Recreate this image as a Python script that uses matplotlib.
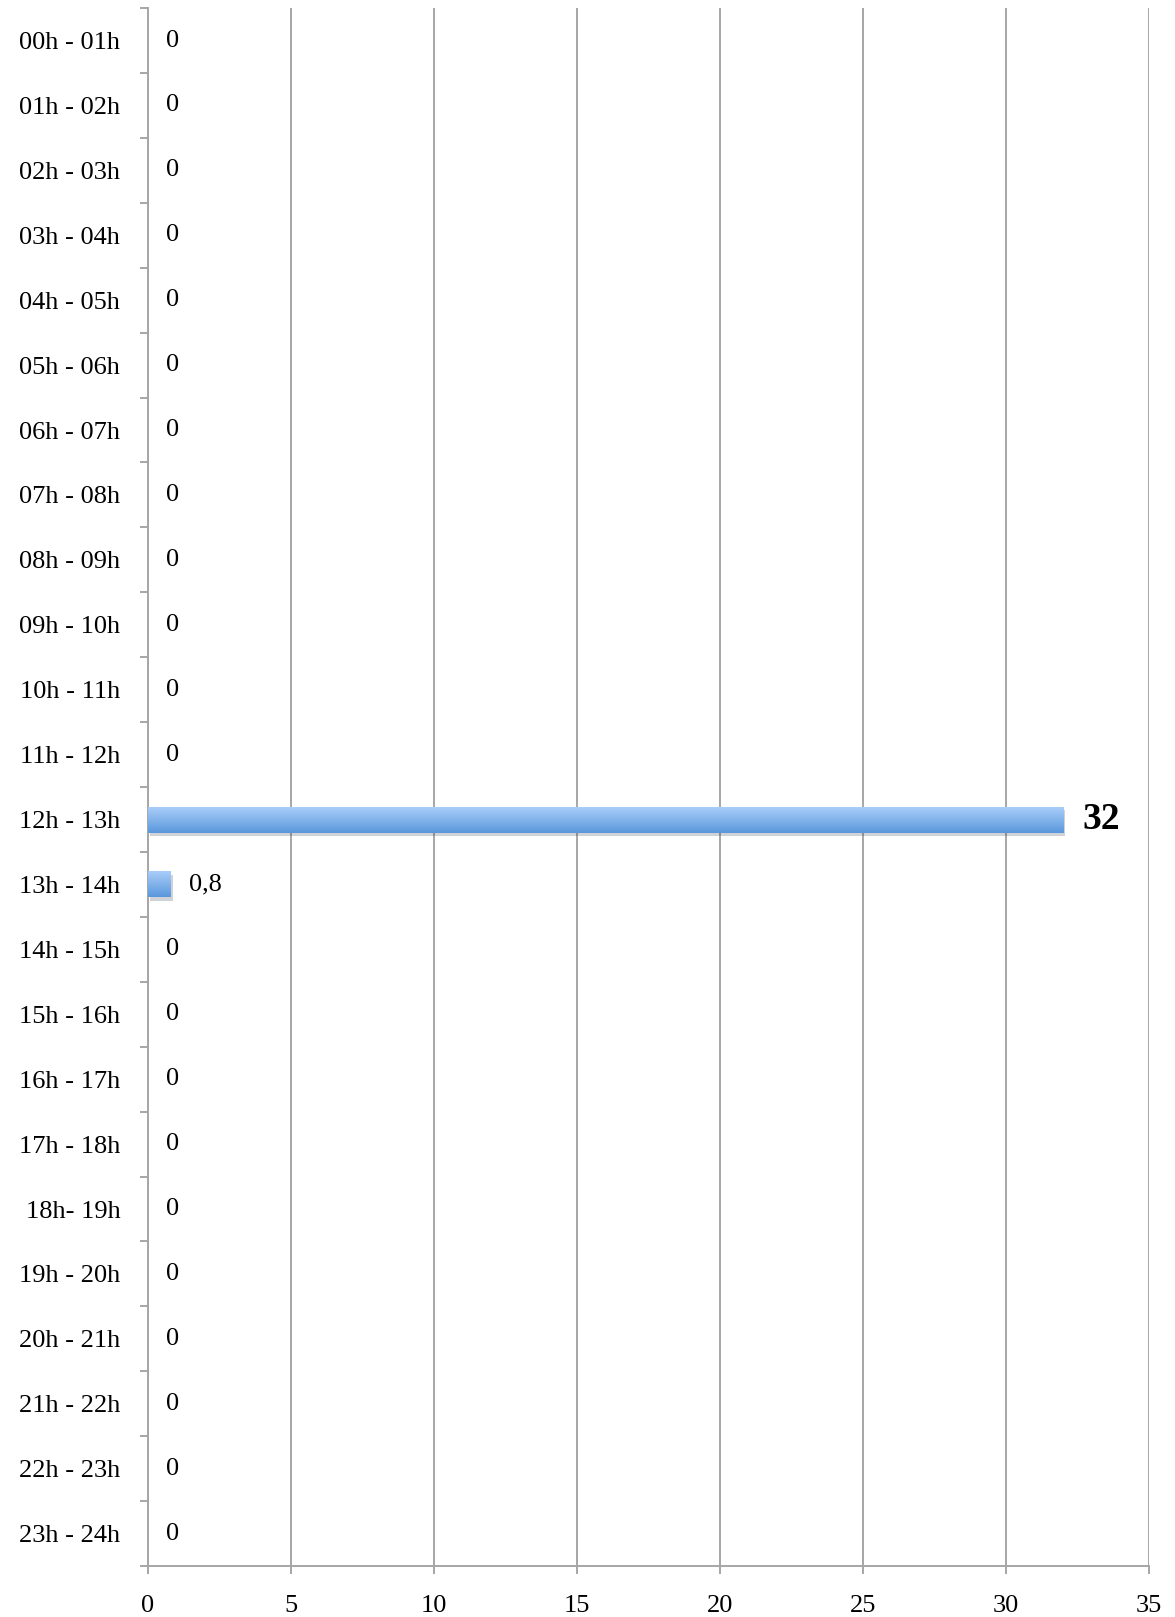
import numpy as np
import matplotlib
matplotlib.use("Agg")
import matplotlib.pyplot as plt
import matplotlib.patheffects as pe

hours = ['00h - 01h', '01h - 02h', '02h - 03h', '03h - 04h', '04h - 05h',
         '05h - 06h', '06h - 07h', '07h - 08h', '08h - 09h', '09h - 10h',
         '10h - 11h', '11h - 12h', '12h - 13h', '13h - 14h', '14h - 15h',
         '15h - 16h', '16h - 17h', '17h - 18h', '18h- 19h', '19h - 20h',
         '20h - 21h', '21h - 22h', '22h - 23h', '23h - 24h']
values = [0, 0, 0, 0, 0, 0, 0, 0, 0, 0, 0, 0,
          32, 0.8, 0, 0, 0, 0, 0, 0, 0, 0, 0, 0]
value_labels = ['0'] * 12 + ['32', '0,8'] + ['0'] * 10
xticks = [0, 5, 10, 15, 20, 25, 30, 35]

plt.rcParams['font.family'] = ['Liberation Serif', 'DejaVu Serif']
gray = '#a6a6a6'
fs = 19

fig = plt.figure(figsize=(11.75, 16.17), dpi=100)
ax = fig.add_axes([0.126, 0.0315, 0.852, 0.9635])

y = np.arange(len(hours))
bars = ax.barh(y, values, height=0.4, color='#7aaee8', zorder=3,
               path_effects=[pe.SimplePatchShadow(offset=(1.5, -2.5), alpha=0.22),
                             pe.Normal()])

ax.set_xlim(0, 35)
ax.set_ylim(len(hours) - 0.5, -0.5)

# vertical gradient on each bar, light top to darker bottom
grad = np.linspace(0, 1, 64).reshape(-1, 1)
cmap = matplotlib.colors.LinearSegmentedColormap.from_list(
    'barblue', ['#a9cdf9', '#5a98dc'])
for b in bars:
    w = b.get_width()
    if w <= 0:
        continue
    x0, yb, h = b.get_x(), b.get_y(), b.get_height()
    im = ax.imshow(grad, cmap=cmap, aspect='auto', zorder=4,
                   extent=(x0, x0 + w, yb + h, yb), origin='upper')
    im.set_clip_path(b)

for i, (v, lab) in enumerate(zip(values, value_labels)):
    if v >= 10:
        ax.annotate(lab, (v, i), xytext=(14, 0), textcoords='offset points',
                    ha='left', va='center', fontsize=27, fontweight='bold')
    elif v > 0:
        ax.annotate(lab, (v, i), xytext=(13, 0), textcoords='offset points',
                    ha='left', va='center', fontsize=fs)
    else:
        ax.annotate(lab, (v, i), xytext=(13, 0), textcoords='offset points',
                    ha='left', va='center', fontsize=fs)

# grid
ax.set_xticks(xticks)
ax.set_xticklabels([str(t) for t in xticks], fontsize=fs)
ax.xaxis.grid(True, color=gray, linewidth=1.4, zorder=0)
ax.set_axisbelow(True)

# y ticks at category boundaries, labels at centres
ax.set_yticks(np.arange(len(hours) + 1) - 0.5)
ax.set_yticklabels([])
ax.set_yticks(y, minor=True)
ax.set_yticklabels(hours, minor=True, fontsize=fs)
ax.tick_params(axis='y', which='major', length=6, color=gray, width=1.4)
ax.tick_params(axis='y', which='minor', length=0, pad=20)
ax.tick_params(axis='x', length=6, color=gray, width=1.4, pad=15)

for s in ['top', 'right']:
    ax.spines[s].set_visible(False)
for s in ['left', 'bottom']:
    ax.spines[s].set_color(gray)
    ax.spines[s].set_linewidth(1.4)

fig.savefig('out.png', dpi=100)
